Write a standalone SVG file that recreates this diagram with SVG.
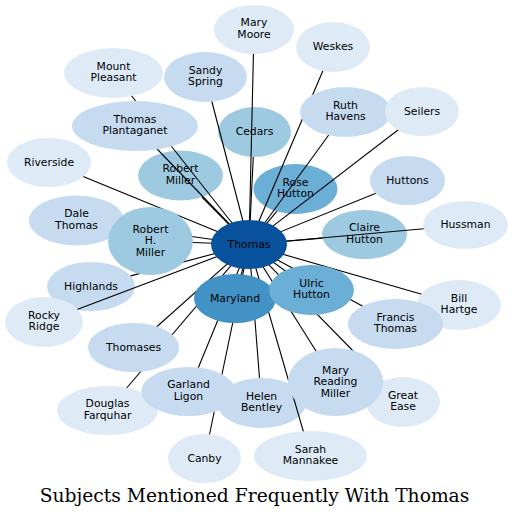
<svg xmlns="http://www.w3.org/2000/svg" width="512" height="519" viewBox="0 0 512 519">
<style>
.n text{font-family:"DejaVu Sans","Liberation Sans",sans-serif;font-size:10.8px;text-anchor:middle;fill:#000}
.e line{stroke:#000;stroke-width:1.1}
.c1{fill:#deebf7}.c2{fill:#c6dbef}.c3{fill:#9ecae1}.c4{fill:#6baed6}.c5{fill:#4292c6}.c6{fill:#08519c}
.title{font-family:"DejaVu Serif","Liberation Serif",serif;font-size:18.7px;text-anchor:middle;fill:#000}
</style>
<rect width="512" height="519" fill="#fff"/>
<!-- nodes beneath connectors -->
<g id="cedars" class="n"><ellipse class="c3" cx="254.5" cy="132" rx="36.5" ry="25"/><text x="254.5" y="135">Cedars</text></g>
<g id="rose_hutton" class="n"><ellipse class="c4" cx="295.5" cy="189" rx="42" ry="25"/><text x="295.5" y="185.75">Rose</text><text x="295.5" y="197.25">Hutton</text></g>
<g id="robert_miller" class="n"><ellipse class="c3" cx="180.5" cy="175.5" rx="42.5" ry="25"/><text x="180.5" y="172.25">Robert</text><text x="180.5" y="183.75">Miller</text></g>
<g id="claire_hutton" class="n"><ellipse class="c3" cx="364.5" cy="234.5" rx="42.5" ry="24.5"/><text x="364.5" y="231.25">Claire</text><text x="364.5" y="242.75">Hutton</text></g>
<g id="highlands" class="n"><ellipse class="c2" cx="91" cy="286.5" rx="44" ry="24.5"/><text x="91" y="290">Highlands</text></g>
<g id="helen_bentley" class="n"><ellipse class="c2" cx="261.5" cy="403" rx="44.5" ry="25"/><text x="261.5" y="399.75">Helen</text><text x="261.5" y="411.25">Bentley</text></g>
<!-- connectors -->
<g id="connectors" class="e">
<line x1="249" y1="244.5" x2="254" y2="29.5"/>
<line x1="249" y1="244.5" x2="333" y2="47"/>
<line x1="249" y1="244.5" x2="113.5" y2="73"/>
<line x1="249" y1="244.5" x2="205.5" y2="77"/>
<line x1="249" y1="244.5" x2="345.5" y2="112"/>
<line x1="249" y1="244.5" x2="422" y2="111.5"/>
<line x1="249" y1="244.5" x2="135" y2="126"/>
<line x1="249" y1="244.5" x2="253.3" y2="157"/>
<line x1="249" y1="244.5" x2="49" y2="162.5"/>
<line x1="249" y1="244.5" x2="201.9" y2="197.1"/>
<line x1="249" y1="244.5" x2="276.8" y2="211.4"/>
<line x1="249" y1="244.5" x2="407.5" y2="180.5"/>
<line x1="249" y1="244.5" x2="76.5" y2="220.5"/>
<line x1="249" y1="244.5" x2="150.5" y2="241"/>
<line x1="249" y1="244.5" x2="322.5" y2="238.1"/>
<line x1="249" y1="244.5" x2="465.5" y2="225"/>
<line x1="249" y1="244.5" x2="130.7" y2="275.9"/>
<line x1="249" y1="244.5" x2="44" y2="322"/>
<line x1="249" y1="244.5" x2="235" y2="298.5"/>
<line x1="249" y1="244.5" x2="311.5" y2="290"/>
<line x1="249" y1="244.5" x2="459" y2="305"/>
<line x1="249" y1="244.5" x2="395.5" y2="324"/>
<line x1="249" y1="244.5" x2="133.5" y2="347.5"/>
<line x1="249" y1="244.5" x2="335.5" y2="382"/>
<line x1="249" y1="244.5" x2="403" y2="402"/>
<line x1="249" y1="244.5" x2="107.5" y2="410.5"/>
<line x1="249" y1="244.5" x2="188.5" y2="391.5"/>
<line x1="249" y1="244.5" x2="259.5" y2="378"/>
<line x1="249" y1="244.5" x2="204.5" y2="458.5"/>
<line x1="249" y1="244.5" x2="310.5" y2="456"/>
</g>
<!-- nodes above connectors -->
<g id="mary_moore" class="n"><ellipse class="c1" cx="254" cy="29.5" rx="40" ry="24.5"/><text x="254" y="26.25">Mary</text><text x="254" y="37.75">Moore</text></g>
<g id="weskes" class="n"><ellipse class="c1" cx="333" cy="47" rx="37" ry="25"/><text x="333" y="50">Weskes</text></g>
<g id="mount_pleasant" class="n"><ellipse class="c1" cx="113.5" cy="73" rx="49.5" ry="25"/><text x="113.5" y="69.75">Mount</text><text x="113.5" y="81.25">Pleasant</text></g>
<g id="sandy_spring" class="n"><ellipse class="c2" cx="205.5" cy="77" rx="41.5" ry="25"/><text x="205.5" y="73.75">Sandy</text><text x="205.5" y="85.25">Spring</text></g>
<g id="ruth_havens" class="n"><ellipse class="c2" cx="345.5" cy="112" rx="45.5" ry="25"/><text x="345.5" y="108.75">Ruth</text><text x="345.5" y="120.25">Havens</text></g>
<g id="seilers" class="n"><ellipse class="c1" cx="422" cy="111.5" rx="37" ry="24.5"/><text x="422" y="114.5">Seilers</text></g>
<g id="thomas_plantaganet" class="n"><ellipse class="c2" cx="135" cy="126" rx="63" ry="25"/><text x="135" y="122.75">Thomas</text><text x="135" y="134.25">Plantaganet</text></g>
<g id="riverside" class="n"><ellipse class="c1" cx="49" cy="162.5" rx="42" ry="24.5"/><text x="49" y="165.5">Riverside</text></g>
<g id="huttons" class="n"><ellipse class="c2" cx="407.5" cy="180.5" rx="37.5" ry="24.5"/><text x="407.5" y="183.5">Huttons</text></g>
<g id="dale_thomas" class="n"><ellipse class="c2" cx="76.5" cy="220.5" rx="47.5" ry="25"/><text x="76.5" y="217.25">Dale</text><text x="76.5" y="228.75">Thomas</text></g>
<g id="robert_h_miller" class="n"><ellipse class="c3" cx="150.5" cy="241" rx="42.5" ry="34"/><text x="150.5" y="232.5">Robert</text><text x="150.5" y="244">H.</text><text x="150.5" y="255.5">Miller</text></g>
<g id="hussman" class="n"><ellipse class="c1" cx="465.5" cy="225" rx="42.5" ry="24"/><text x="465.5" y="228">Hussman</text></g>
<g id="rocky_ridge" class="n"><ellipse class="c1" cx="44" cy="322" rx="39" ry="25"/><text x="44" y="318.75">Rocky</text><text x="44" y="330.25">Ridge</text></g>
<g id="maryland" class="n"><ellipse class="c5" cx="235" cy="298.5" rx="41" ry="24.5"/><text x="235" y="301.5">Maryland</text></g>
<g id="ulric_hutton" class="n"><ellipse class="c4" cx="311.5" cy="290" rx="42.5" ry="25"/><text x="311.5" y="286.75">Ulric</text><text x="311.5" y="298.25">Hutton</text></g>
<g id="bill_hartge" class="n"><ellipse class="c1" cx="459" cy="305" rx="42" ry="25"/><text x="459" y="301.75">Bill</text><text x="459" y="313.25">Hartge</text></g>
<g id="francis_thomas" class="n"><ellipse class="c2" cx="395.5" cy="324" rx="47.5" ry="25"/><text x="395.5" y="320.75">Francis</text><text x="395.5" y="332.25">Thomas</text></g>
<g id="thomases" class="n"><ellipse class="c2" cx="133.5" cy="347.5" rx="45.5" ry="24.5"/><text x="133.5" y="350.5">Thomases</text></g>
<g id="great_ease" class="n"><ellipse class="c1" cx="403" cy="402" rx="37" ry="25"/><text x="403" y="398.75">Great</text><text x="403" y="410.25">Ease</text></g>
<g id="mary_reading_miller" class="n"><ellipse class="c2" cx="335.5" cy="382" rx="47.5" ry="34"/><text x="335.5" y="373.5">Mary</text><text x="335.5" y="385">Reading</text><text x="335.5" y="396.5">Miller</text></g>
<g id="douglas_farquhar" class="n"><ellipse class="c1" cx="107.5" cy="410.5" rx="50.5" ry="24.5"/><text x="107.5" y="407.25">Douglas</text><text x="107.5" y="418.75">Farquhar</text></g>
<g id="garland_ligon" class="n"><ellipse class="c2" cx="188.5" cy="391.5" rx="47" ry="24.5"/><text x="188.5" y="388.25">Garland</text><text x="188.5" y="399.75">Ligon</text></g>
<g id="canby" class="n"><ellipse class="c1" cx="204.5" cy="458.5" rx="36.5" ry="24.5"/><text x="204.5" y="461.5">Canby</text></g>
<g id="sarah_mannakee" class="n"><ellipse class="c1" cx="310.5" cy="456" rx="56.5" ry="25"/><text x="310.5" y="452.75">Sarah</text><text x="310.5" y="464.25">Mannakee</text></g>
<g id="thomas" class="n"><ellipse class="c6" cx="249" cy="244.5" rx="38" ry="24.5"/><text x="249" y="247.5">Thomas</text></g>
<text class="title" x="254.5" y="501.5">Subjects Mentioned Frequently With Thomas</text>
</svg>
